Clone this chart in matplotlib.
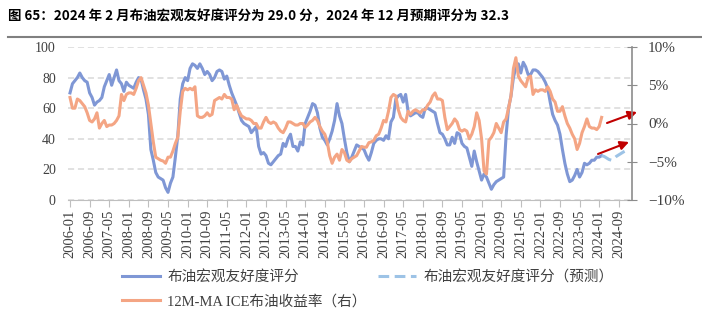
import matplotlib.pyplot as plt
import numpy as np
import pandas as pd

# month categories 2006-01 .. 2024-12
months = pd.period_range("2006-01", "2024-12", freq="M").strftime("%Y-%m").tolist()

# 布油宏观友好度评分 (left axis), 2006-01 .. 2024-02
score = [
    70, 76, 78, 80, 83, 80, 78, 77, 70, 67, 62, 64,   # 2006
    65, 67, 74, 78, 82, 75, 80, 85, 78, 76, 71, 77,   # 2007
    75, 74, 73, 77, 80, 79, 72, 66, 56, 33, 26, 18,   # 2008
    15, 14, 13, 8, 5, 11, 15, 28, 42, 66, 76, 80,     # 2009
    78, 86, 89, 88, 86, 89, 86, 82, 84, 82, 78, 80,   # 2010
    84, 85, 84, 79, 81, 75, 70, 66, 62, 57, 52, 50,   # 2011
    49, 48, 44, 46, 48, 35, 30, 31, 29, 24, 23, 25,   # 2012
    27, 29, 30, 37, 35, 40, 43, 35, 35, 32, 38, 36,   # 2013
    50, 54, 58, 63, 62, 57, 47, 41, 39, 36, 40, 45,   # 2014
    52, 63, 55, 50, 40, 31, 25, 28, 32, 36, 35, 34,   # 2015
    33, 29, 26, 31, 37, 39, 40, 40, 39, 42, 40, 51,   # 2016
    54, 66, 68, 69, 64, 69, 58, 55, 56, 57, 57, 55,   # 2017
    54, 60, 60, 59, 58, 57, 50, 44, 43, 40, 36, 36,   # 2018
    41, 37, 44, 43, 37, 35, 34, 28, 22, 32, 25, 19,   # 2019
    13, 17, 15, 11, 7, 10, 12, 13, 14, 15, 42, 60,    # 2020
    68, 80, 87, 89, 83, 90, 87, 82, 82, 85, 85, 84,   # 2021
    82, 80, 77, 73, 64, 56, 52, 49, 43, 33, 24, 17,   # 2022
    12, 13, 16, 20, 15, 18, 24, 23, 24, 26, 26, 28,   # 2023
    28, 29.0,                                         # 2024
]

# 布油宏观友好度评分（预测）, 2024-02 .. 2024-12
forecast = [29.0, 28.5, 27.5, 26.5, 26.0, 27.0, 28.5, 29.5, 30.5, 31.5, 32.3]

# 12M-MA ICE布油收益率 (right axis, %), 2006-01 .. 2024-02
ret_ma = [
    3.4, 2.0, 2.0, 3.2, 3.0, 2.6, 2.2, 1.4, 0.4, 0.2, 0.6, 1.4,          # 2006
    -0.6, 0.0, 0.4, -0.4, -0.2, -0.2, 0.0, 0.4, 1.0, 3.8, 3.0, 3.8,      # 2007
    4.0, 4.0, 3.8, 4.6, 5.6, 6.0, 5.0, 4.0, 2.4, 0.0, -2.4, -4.4,        # 2008
    -4.6, -4.8, -4.9, -5.2, -4.4, -4.4, -3.6, -2.6, -1.8, 1.6, 4.2, 4.6, # 2009
    4.4, 4.6, 4.4, 4.8, 1.0, 0.8, 0.8, 1.0, 1.4, 1.0, 1.2, 3.0,          # 2010
    3.2, 3.4, 3.2, 3.8, 3.4, 3.4, 3.2, 1.8, 2.4, 1.6, 1.0, 0.8,          # 2011
    0.6, 0.6, 0.4, 0.0, 0.0, -0.6, -0.6, 0.2, 0.8, 0.2, 0.0, 0.2,        # 2012
    0.0, -0.6, -1.0, -1.2, -0.6, 0.2, 0.2, 0.0, -0.2, -0.2, 0.0, 0.0,    # 2013
    -0.5, -0.2, 0.2, 0.4, 0.8, 0.4, -0.4, -1.0, -1.4, -2.4, -4.2, -5.2,  # 2014
    -4.4, -4.0, -4.8, -3.4, -3.8, -4.8, -5.0, -4.6, -4.4, -4.2, -3.6, -3.0,  # 2015
    -3.1, -3.1, -2.5, -2.4, -2.2, -1.6, -1.4, -0.6, 0.4, 0.2, 1.6, 3.4,  # 2016
    3.8, 3.6, 1.8, 0.8, 0.4, 0.2, 1.6, 1.2, 1.6, 1.8, 1.6, 1.4,          # 2017
    1.8, 1.8, 2.4, 2.8, 3.6, 4.0, 3.2, 3.2, 3.0, 0.8, -0.8, -0.4,        # 2018
    0.0, 0.6, 0.2, -0.8, -1.0, -0.8, -1.0, -2.0, -1.4, -0.4, 1.4, 0.4,   # 2019
    -2.0, -6.2, -6.6, -2.2, -1.8, -1.2, 0.0, -0.6, -1.2, 0.2, 0.6, 2.0,  # 2020
    3.6, 7.2, 8.6, 6.2, 5.6, 5.2, 4.8, 6.0, 6.2, 3.8, 4.4, 4.2,          # 2021
    4.4, 4.4, 4.2, 4.8, 4.2, 3.2, 2.8, 1.6, 1.6, 2.2, 1.0, 0.0,          # 2022
    -0.6, -1.4, -2.0, -3.4, -2.6, -1.2, -0.4, 0.6, -0.4, -0.6, -0.6, -0.8,  # 2023
    -0.4, 0.8,                                                           # 2024
]

blue = "#7F97D5"
light_blue = "#9DC3E6"
orange = "#F4A584"
grey_txt = "#404040"

plt.rcParams['font.family'] = ['Liberation Serif', 'Noto Sans CJK SC']

fig = plt.figure(figsize=(7.02, 3.28), dpi=100)
ax = fig.add_axes([68.3 / 702, 1 - 200 / 328, (632 - 68.3) / 702, 153 / 328])
ax2 = ax.twinx()

x = np.arange(len(score))
xf = np.arange(len(score) - 1, len(score) - 1 + len(forecast))

l1, = ax.plot(x, score, color=blue, lw=2.2, label="布油宏观友好度评分")
l2, = ax.plot(xf, forecast, color=light_blue, lw=2.2, dashes=(3.5, 1.8),
              label="布油宏观友好度评分（预测）")
l3, = ax2.plot(np.arange(len(ret_ma)), ret_ma, color=orange, lw=2.2,
               label="12M-MA ICE布油收益率（右）")

ax.set_xlim(-0.7, 229.4)
ax.set_ylim(0, 100)
ax2.set_ylim(-10, 10)

ax.set_yticks(range(0, 101, 20))
ax.yaxis.grid(True, color="#D9D9D9", lw=1.1, linestyle=(0, (4, 2.5)))
ax.set_axisbelow(True)

tick_pos = list(range(0, 225, 8))
ax.set_xticks(tick_pos)
ax.set_xticklabels([months[i] for i in tick_pos], rotation=90)

ax2.set_yticks([-10, -5, 0, 5, 10])
ax2.set_yticklabels(["−10%", "−5%", "0%", "5%", "10%"])

for a in (ax, ax2):
    for s in a.spines.values():
        s.set_visible(False)
ax.spines['bottom'].set_visible(True)
ax.spines['bottom'].set_color("#BFBFBF")
ax2.spines['right'].set_visible(True)
ax2.spines['right'].set_color("#8C8C8C")
ax2.spines['right'].set_linewidth(1.2)

ax.tick_params(axis='y', length=0, pad=9, labelsize=10, labelcolor=grey_txt)
ax.tick_params(axis='x', length=5, color="#BFBFBF", pad=2, labelsize=10.5, labelcolor=grey_txt)
ax2.tick_params(axis='y', direction='inout', length=7, color="#8C8C8C", pad=8,
                labelsize=11, labelcolor=grey_txt)

# title and rule
fig.text(8 / 702, 1 - 16 / 328, "图 65：2024 年 2 月布油宏观友好度评分为 29.0 分，2024 年 12 月预期评分为 32.3",
         family=['Noto Sans CJK SC'], fontweight='bold', fontsize=9.7, va='center', ha='left')
fig.add_artist(plt.Line2D([8 / 702, 1], [1 - 37 / 328, 1 - 37 / 328], color="#808080", lw=1.5))

# arrows
for tail, head in [((607, 205), (637, 216)), ((598, 174), (629, 186))]:
    ax.annotate("", xy=head, xytext=tail, xycoords='figure pixels', textcoords='figure pixels',
                arrowprops=dict(arrowstyle='-|>', color="#C00000", lw=1.5,
                                mutation_scale=13, shrinkA=0, shrinkB=0), annotation_clip=False)

fig.legend(handles=[l1, l3, l2], loc='upper left', ncol=2, frameon=False,
           bbox_to_anchor=(122 / 702, 1 - 270 / 328), borderpad=0, borderaxespad=0,
           handlelength=2.6, handletextpad=0.5, columnspacing=0.8, labelspacing=0.7,
           prop={'family': ['Liberation Serif', 'Noto Sans CJK SC'], 'size': 10.5},
           labelcolor=grey_txt)

fig.savefig("out.png", dpi=100)
